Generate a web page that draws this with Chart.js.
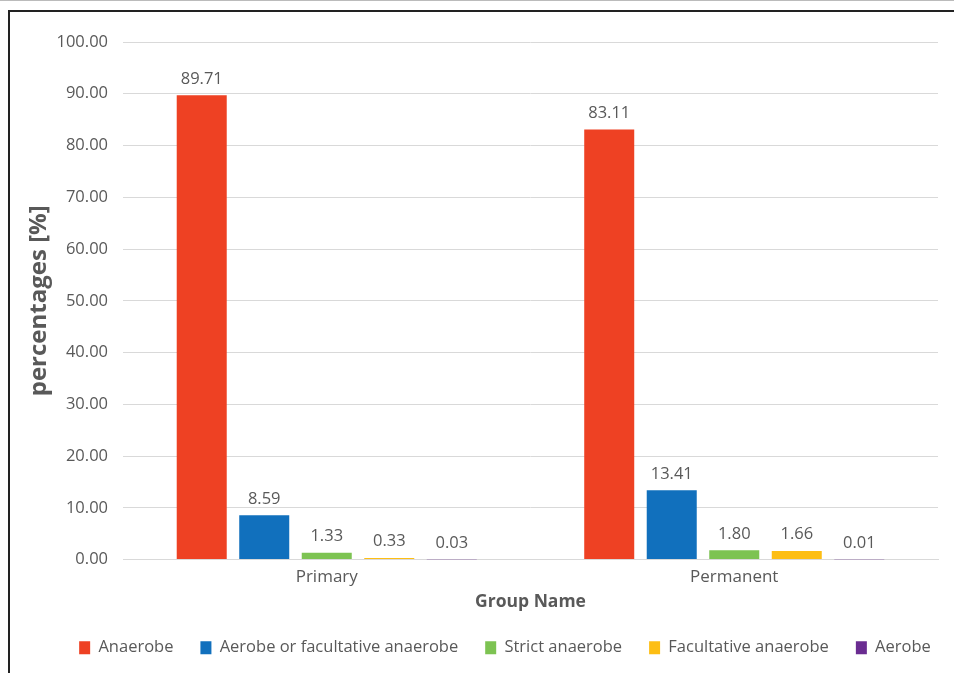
<!DOCTYPE html>
<html>
<head>
<meta charset="utf-8">
<script src="https://cdn.jsdelivr.net/npm/chart.js@4"></script>
<style>
  html, body { margin: 0; padding: 0; background: #fff; }
  body { width: 954px; height: 673px; overflow: hidden; position: relative; border-top: 1px solid #bbb; box-sizing: border-box; }
  #frame { position: absolute; left: 8px; top: 9px; width: 960px; height: 680px; border-left: 2px solid #222; border-top: 2px solid #222; }
  #wrap { position: absolute; left: 0; top: 0; width: 954px; height: 673px; }
</style>
</head>
<body>
<div id="frame"></div>
<div id="wrap"><canvas id="chart"></canvas></div>
<script>
// Share of oxygen-tolerance groups per dentition
const groups = ['Primary', 'Permanent'];
const seriesNames = ['Anaerobe', 'Aerobe or facultative anaerobe', 'Strict anaerobe', 'Facultative anaerobe', 'Aerobe'];
const anaerobe = [89.71, 83.11];
const aerobeOrFacultative = [8.59, 13.41];
const strictAnaerobe = [1.33, 1.80];
const facultativeAnaerobe = [0.33, 1.66];
const aerobe = [0.03, 0.01];
const yTicks = [0, 10, 20, 30, 40, 50, 60, 70, 80, 90, 100];

const COLORS = ['#EE4123', '#1170BD', '#7DC352', '#FDBE14', '#6A2C91'];
const TEXT = '#595959';
const FONT = "'Open Sans', sans-serif";

// value labels above each bar
const barValues = {
    id: 'barValues',
    afterDatasetsDraw(chart) {
        const ctx = chart.ctx;
        ctx.save();
        ctx.font = `16.5px ${FONT}`;
        ctx.fillStyle = TEXT;
        ctx.textAlign = 'center';
        ctx.textBaseline = 'bottom';
        chart.data.datasets.forEach((ds, i) => {
            chart.getDatasetMeta(i).data.forEach((bar, j) => {
                ctx.fillText(ds.data[j].toFixed(2), bar.x, bar.y - 8);
            });
        });
        ctx.restore();
    }
};

// nudge the legend row to the right of the canvas centre
const legendShift = {
    id: 'legendShift',
    afterLayout(chart) {
        if (chart.legend) { chart.legend.left += 36; chart.legend.right += 36; }
    }
};

const series = [anaerobe, aerobeOrFacultative, strictAnaerobe, facultativeAnaerobe, aerobe];

new Chart(document.getElementById('chart'), {
    type: 'bar',
    data: {
        labels: groups,
        datasets: series.map((d, i) => ({
            label: seriesNames[i], data: d, backgroundColor: COLORS[i],
            barPercentage: 0.8, categoryPercentage: 0.767
        }))
    },
    options: {
        responsive: true, maintainAspectRatio: false, animation: false,
        layout: { padding: { top: 41, right: 16, left: 0, bottom: 8 } },
        plugins: {
            tooltip: { enabled: false },
            legend: {
                position: 'bottom',
                labels: { color: TEXT, font: { family: FONT, size: 16.5 }, boxWidth: 11, boxHeight: 13, padding: 27 }
            }
        },
        scales: {
            x: {
                grid: { display: false, drawTicks: false },
                border: { color: '#d9d9d9' },
                ticks: { color: TEXT, font: { family: FONT, size: 17 }, padding: 7 },
                title: { display: true, text: 'Group Name', color: TEXT, font: { family: FONT, size: 17.5, weight: 'bold' }, padding: { top: -2.5, bottom: 0 } }
            },
            y: {
                min: 0, max: 100,
                afterBuildTicks: s => { s.ticks = yTicks.map(v => ({ value: v })); },
                afterFit: s => { s.width = 123; },
                grid: { color: '#d9d9d9', drawTicks: false },
                border: { display: false },
                ticks: { color: TEXT, font: { family: FONT, size: 16.5 }, padding: 15, callback: v => v.toFixed(2) },
                title: { display: true, text: 'percentages [%]', color: TEXT, font: { family: FONT, size: 24, weight: 'bold' }, padding: { top: 25, bottom: 0 } }
            }
        }
    },
    plugins: [barValues, legendShift]
});
</script>
</body>
</html>
